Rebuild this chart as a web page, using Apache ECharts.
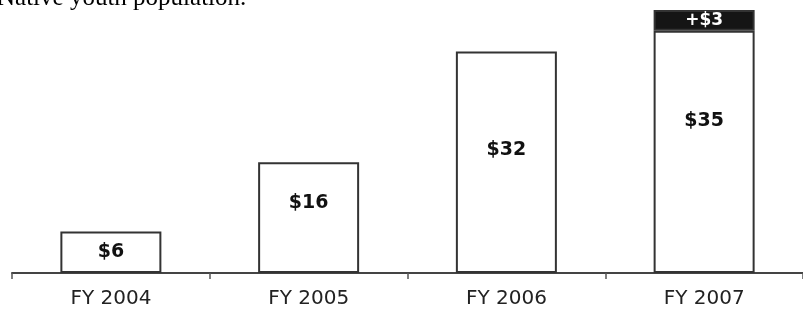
<!DOCTYPE html>
<html>
<head>
<meta charset="utf-8">
<script src="https://cdn.jsdelivr.net/npm/echarts@6/dist/echarts.min.js"></script>
<style>
  html, body { margin: 0; padding: 0; background: #fff; }
  #chart_box { width: 803px; height: 310px; }
</style>
</head>
<body>
<div id="chart_box"></div>
<script>
// data
var years = ["FY 2004", "FY 2005", "FY 2006", "FY 2007"];
var funding = [6, 16, 32, 35];   // $ millions, white bars
var increase = [0, 0, 0, 3];     // black add-on on top of FY 2007
var labelShift = [0, -15, -12, -31]; // where the original placed the value text

var mychart = echarts.init(document.getElementById("chart_box"));

var option = {
  animation: false,
  backgroundColor: "#fff",
  graphic: [{
    type: "text",
    left: -3,
    top: -14,
    style: {
      text: "Native youth population.",
      font: "25px 'Liberation Serif'",
      fill: "#000"
    }
  }],
  grid: { left: 12, right: -5, top: 10, bottom: 37 },
  xAxis: {
    type: "category",
    data: years,
    axisLine: { lineStyle: { color: "#444", width: 2 } },
    axisTick: { show: true, length: 6, lineStyle: { color: "#555", width: 1.5 } },
    axisLabel: {
      margin: 16,
      fontFamily: "DejaVu Sans",
      fontSize: 20,
      color: "#222"
    }
  },
  yAxis: {
    type: "value",
    min: 0,
    max: 38,
    show: false
  },
  series: [
    {
      type: "bar",
      stack: "total",
      barWidth: 101,
      data: funding.map(function (v, i) {
        return { value: v, label: { offset: [0, labelShift[i]] } };
      }),
      itemStyle: { color: "#fff", borderColor: "#333", borderWidth: 2 },
      label: {
        show: true,
        position: "inside",
        formatter: function (p) { return "$" + p.value; },
        fontFamily: "DejaVu Sans",
        fontWeight: "bold",
        fontSize: 19,
        color: "#111"
      }
    },
    {
      type: "bar",
      stack: "total",
      barWidth: 101,
      data: increase.map(function (v) { return v ? v : "-"; }),
      itemStyle: { color: "#151515", borderColor: "#333", borderWidth: 2 },
      label: {
        show: true,
        position: "inside",
        formatter: function (p) { return "+$" + p.value; },
        fontFamily: "DejaVu Sans",
        fontWeight: "bold",
        fontSize: 17,
        color: "#fff"
      }
    }
  ]
};

mychart.setOption(option);
</script>
</body>
</html>
